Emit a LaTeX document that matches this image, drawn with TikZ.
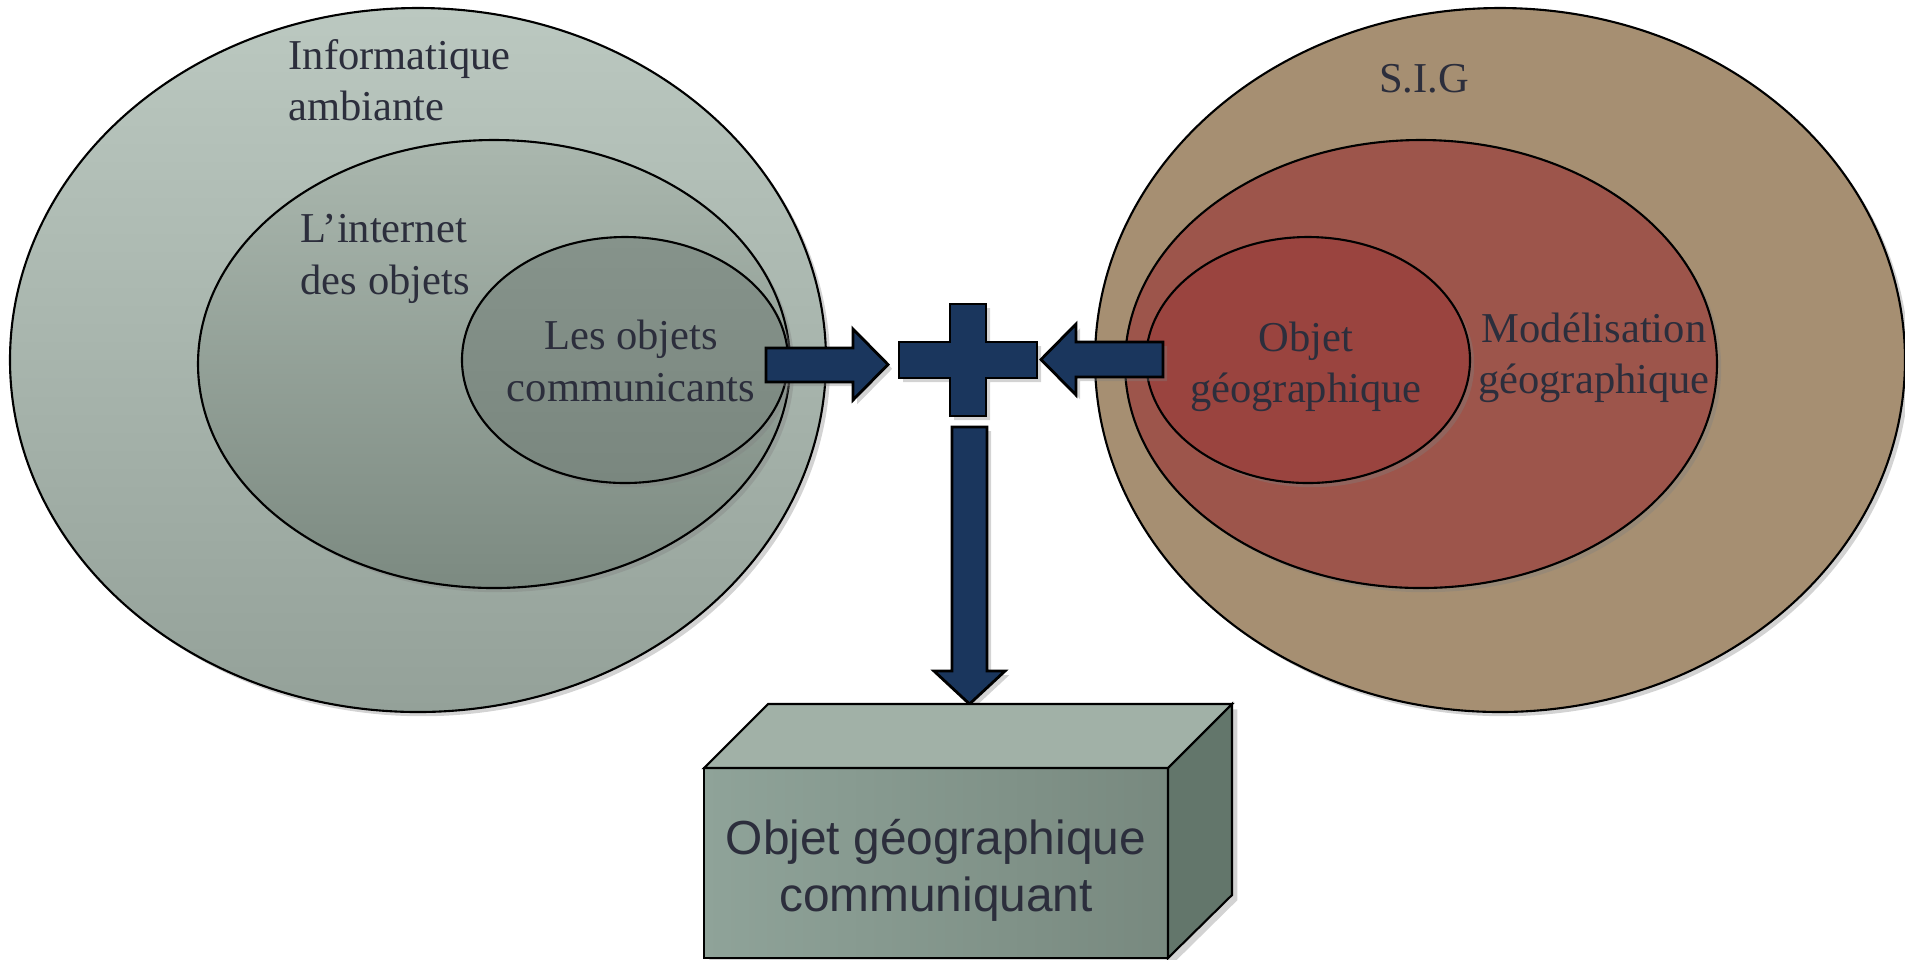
\documentclass[tikz,border=0pt]{standalone}
\usepackage{fontspec}
\setmainfont{Liberation Serif}
\newfontfamily\boxfont{Liberation Sans}
\usetikzlibrary{shadows}

\definecolor{txtdark}{RGB}{44,46,60}
\definecolor{arrowblue}{RGB}{26,54,93}
\definecolor{ambtop}{RGB}{187,200,192}
\definecolor{ambbot}{RGB}{148,161,153}
\definecolor{iottop}{RGB}{170,183,174}
\definecolor{iotbot}{RGB}{124,138,129}
\definecolor{comtop}{RGB}{134,147,139}
\definecolor{combot}{RGB}{122,135,127}
\definecolor{sigtan}{RGB}{166,143,114}
\definecolor{modred}{RGB}{157,85,75}
\definecolor{objred}{RGB}{154,68,63}
\definecolor{cubeleft}{RGB}{143,163,153}
\definecolor{cuberight}{RGB}{120,137,127}
\definecolor{cubetop}{RGB}{161,177,167}
\definecolor{cubeside}{RGB}{99,118,107}

\tikzset{
  ring/.style={draw=black,line width=0.6pt,
    drop shadow={opacity=0.35,shadow xshift=1.2pt,shadow yshift=-1.2pt}},
  blockarrow/.style={draw=black,line width=0.8pt,fill=arrowblue,
    drop shadow={opacity=0.35,shadow xshift=1.2pt,shadow yshift=-1.2pt}},
  lbl/.style={inner sep=0pt,text=txtdark,font=\fontsize{12.1}{14.6}\selectfont},
  boxlbl/.style={inner sep=0pt,text=txtdark,align=center,
    font=\boxfont\fontsize{13.6}{16.2}\selectfont}
}

\begin{document}
\begin{tikzpicture}[x=0.01cm,y=-0.01cm]
\useasboundingbox (0,0) rectangle (1905,959);

% left side: nested ellipses
\path[ring,top color=ambtop,bottom color=ambbot] (418,360) ellipse [x radius=408,y radius=352];
\path[ring,top color=iottop,bottom color=iotbot] (494,364) ellipse [x radius=296,y radius=224];
\path[ring,top color=comtop,bottom color=combot] (625,360) ellipse [x radius=163,y radius=123];

% right side: nested ellipses
\path[ring,fill=sigtan] (1500,360) ellipse [x radius=405,y radius=352];
\path[ring,fill=modred] (1421,364) ellipse [x radius=296,y radius=224];
\path[ring,fill=objred] (1308,360) ellipse [x radius=162,y radius=123];

\node[lbl,anchor=west,align=left]   (ambiante) at (288,80)   {Informatique\\ambiante};
\node[lbl,anchor=west,align=left]   (internet) at (300,259)  {L’internet\\des objets};
\node[lbl,align=center]             (communic) at (631,361)  {Les objets\\communicants};
\node[lbl]                          (sig)      at (1424,79)  {S.I.G};
\node[lbl,align=center]             (objgeo)   at (1306,367) {Objet\\géographique};
\node[lbl,align=center]             (modelis)  at (1594,358) {Modélisation\\géographique};

% block arrows and plus
\draw[blockarrow]
    (766,348) -- (853,348) -- (853,329) -- (888,364.5)
 -- (853,400) -- (853,382) -- (766,382) -- cycle;
\draw[blockarrow]
    (899,342) -- (950,342) -- (950,304) -- (986,304) -- (986,342) -- (1037,342)
 -- (1037,378) -- (986,378) -- (986,416) -- (950,416) -- (950,378) -- (899,378) -- cycle;
\draw[blockarrow]
    (1163,342) -- (1076,342) -- (1076,324) -- (1041,359.5)
 -- (1076,395) -- (1076,377) -- (1163,377) -- cycle;
\draw[blockarrow]
    (952,427) -- (987,427) -- (987,671) -- (1005,671) -- (969.5,704)
 -- (934,671) -- (952,671) -- cycle;

% cube
\path[drop shadow={opacity=0.35,shadow xshift=1.5pt,shadow yshift=-1.5pt}]
    (704,768) -- (768,704) -- (1232,704) -- (1232,895) -- (1168,958) -- (704,958) -- cycle;
\draw[line width=0.6pt,left color=cubeleft,right color=cuberight]
    (704,768) rectangle (1168,958);
\draw[line width=0.6pt,fill=cubetop]
    (704,768) -- (768,704) -- (1232,704) -- (1168,768) -- cycle;
\draw[line width=0.6pt,fill=cubeside]
    (1168,768) -- (1232,704) -- (1232,895) -- (1168,958) -- cycle;
\node[boxlbl] (cube) at (936,870) {Objet géographique\\communiquant};
\end{tikzpicture}
\end{document}
